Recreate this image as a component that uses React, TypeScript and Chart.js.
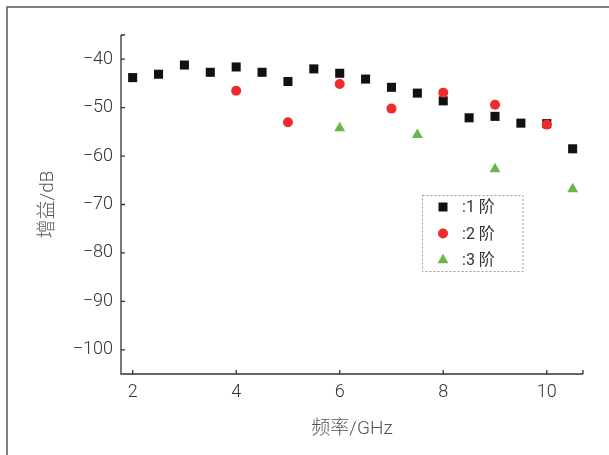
import React, { useEffect, useRef } from "react";
import { Chart, registerables } from "chart.js";

Chart.register(...registerables);

const freq1 = [2, 2.5, 3, 3.5, 4, 4.5, 5, 5.5, 6, 6.5, 7, 7.5, 8, 8.5, 9, 9.5, 10, 10.5];
const gain1 = [-43.8, -43.1, -41.2, -42.7, -41.6, -42.7, -44.6, -42.0, -42.9, -44.1, -45.8, -47.0, -48.6, -52.1, -51.8, -53.2, -53.3, -58.5];
const freq2 = [4, 5, 6, 7, 8, 9, 10];
const gain2 = [-46.5, -53.0, -45.1, -50.2, -46.9, -49.4, -53.5];
const freq3 = [6, 7.5, 9, 10.5];
const gain3 = [-54.2, -55.6, -62.7, -66.8];

const seriesLabels = [":1 阶", ":2 阶", ":3 阶"];
const xTicks = [2, 4, 6, 8, 10];
const yTicks = [-100, -90, -80, -70, -60, -50, -40];
const xTitle = "频率/GHz";
const yTitle = "增益/dB";

const BLACK = "#111111";
const RED = "#ef2b2b";
const GREEN = "#6cb548";
const FONT = "Roboto, 'Noto Sans CJK SC', sans-serif";

function drawMarker(ctx: CanvasRenderingContext2D, style: string, x: number, y: number, color: string) {
  ctx.save();
  ctx.fillStyle = color;
  ctx.beginPath();
  if (style === "rect") {
    ctx.rect(x - 4.5, y - 4.5, 9, 9);
  } else if (style === "circle") {
    ctx.arc(x, y, 5, 0, Math.PI * 2);
  } else {
    const r = 6.3;
    ctx.moveTo(x, y - r);
    ctx.lineTo(x + r * Math.sin(Math.PI * 2 / 3), y - r * Math.cos(Math.PI * 2 / 3));
    ctx.lineTo(x - r * Math.sin(Math.PI * 2 / 3), y - r * Math.cos(Math.PI * 2 / 3));
    ctx.closePath();
  }
  ctx.fill();
  ctx.restore();
}

const framePlugin = {
  id: "frameAndAxes",
  beforeDraw(chart: any) {
    const ctx = chart.ctx as CanvasRenderingContext2D;
    ctx.save();
    ctx.fillStyle = "#ffffff";
    ctx.fillRect(0, 0, chart.width, chart.height);
    ctx.strokeStyle = "#555555";
    ctx.lineWidth = 1.5;
    ctx.beginPath();
    ctx.moveTo(7, chart.height);
    ctx.lineTo(7, 7);
    ctx.lineTo(chart.width, 7);
    ctx.stroke();
    ctx.restore();
  },
  afterDraw(chart: any) {
    const ctx = chart.ctx as CanvasRenderingContext2D;
    const { left, right, top, bottom } = chart.chartArea;
    const xs = chart.scales.x;
    const ys = chart.scales.y;
    ctx.save();
    ctx.strokeStyle = "#333333";
    ctx.lineWidth = 1.3;
    ctx.beginPath();
    ctx.moveTo(left, top);
    ctx.lineTo(left, bottom);
    ctx.lineTo(right, bottom);
    ctx.moveTo(left, top);
    ctx.lineTo(left + 4, top);
    ctx.moveTo(right, bottom);
    ctx.lineTo(right, bottom - 4);
    xTicks.forEach((v) => {
      const px = xs.getPixelForValue(v);
      ctx.moveTo(px, bottom);
      ctx.lineTo(px, bottom - 4);
    });
    yTicks.forEach((v) => {
      const py = ys.getPixelForValue(v);
      ctx.moveTo(left, py);
      ctx.lineTo(left + 4, py);
    });
    ctx.stroke();

    const bx = 422.5, by = 195.5, bw = 100.5, bh = 76;
    ctx.strokeStyle = "#9a9a9a";
    ctx.lineWidth = 1;
    ctx.setLineDash([2, 2]);
    ctx.strokeRect(bx, by, bw, bh);
    ctx.setLineDash([]);
    const styles = ["rect", "circle", "triangle"];
    const colors = [BLACK, RED, GREEN];
    const rows = [207, 233.5, 260];
    ctx.font = `16px ${FONT}`;
    ctx.textBaseline = "middle";
    ctx.textAlign = "left";
    seriesLabels.forEach((lab, i) => {
      drawMarker(ctx, styles[i], 443, rows[i], colors[i]);
      ctx.fillStyle = "#333333";
      ctx.fillText(lab, 462, rows[i] + 1);
    });
    ctx.restore();
  },
};

export default function App() {
  const ref = useRef<HTMLCanvasElement | null>(null);
  useEffect(() => {
    document.body.style.margin = "0";
    const canvas = ref.current;
    if (!canvas) return;
    const mk = (xsArr: number[], ysArr: number[]) => xsArr.map((x, i) => ({ x, y: ysArr[i] }));
    const chart = new Chart(canvas, {
      type: "scatter",
      data: {
        datasets: [
          { label: seriesLabels[0], data: mk(freq1, gain1), pointStyle: "rect", pointRadius: 6.4, backgroundColor: BLACK, borderColor: BLACK, borderWidth: 0, order: 2 },
          { label: seriesLabels[1], data: mk(freq2, gain2), pointStyle: "circle", pointRadius: 5, backgroundColor: RED, borderColor: RED, borderWidth: 0, order: 1 },
          { label: seriesLabels[2], data: mk(freq3, gain3), pointStyle: "triangle", pointRadius: 6.3, backgroundColor: GREEN, borderColor: GREEN, borderWidth: 0, order: 0 },
        ],
      },
      options: {
        animation: false,
        responsive: false,
        devicePixelRatio: 1,
        layout: { padding: { left: 0, right: 26, top: 35, bottom: 0 } },
        plugins: { legend: { display: false }, tooltip: { enabled: false }, title: { display: false } },
        scales: {
          x: {
            type: "linear",
            min: 1.775,
            max: 10.7,
            grid: { display: false, drawTicks: false },
            border: { display: false },
            afterBuildTicks: (s: any) => { s.ticks = xTicks.map((v) => ({ value: v })); },
            afterFit: (s: any) => { s.height = 81; },
            ticks: { padding: 8, color: "#333333", font: { family: FONT, size: 18, weight: "300" as any }, callback: (v: any) => String(v) },
            title: { display: true, text: xTitle, color: "#555555", font: { family: FONT, size: 19, weight: "300" as any }, padding: { top: 0, bottom: 14 } },
          },
          y: {
            type: "linear",
            min: -105,
            max: -35,
            grid: { display: false, drawTicks: false },
            border: { display: false },
            afterBuildTicks: (s: any) => { s.ticks = yTicks.map((v) => ({ value: v })); },
            afterFit: (s: any) => { s.width = 121; },
            ticks: { padding: 8, color: "#333333", font: { family: FONT, size: 18, weight: "300" as any }, callback: (v: any) => String(v).replace("-", "\u2212") },
            title: { display: true, text: yTitle, color: "#555555", font: { family: FONT, size: 19, weight: "300" as any }, padding: { top: 37, bottom: 0 } },
          },
        },
      },
      plugins: [framePlugin],
    });
    return () => chart.destroy();
  }, []);
  return <canvas ref={ref} width={609} height={455} style={{ display: "block", width: 609, height: 455 }} />;
}
